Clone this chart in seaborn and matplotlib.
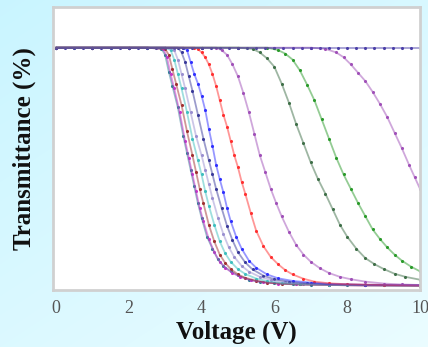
import numpy as np
import pandas as pd
import matplotlib
matplotlib.use("Agg")
import matplotlib.pyplot as plt
import seaborn as sns

# -----------------------------
# 1. Data (Voltage in V, Transmittance in %)
# -----------------------------
teal_v = [0, 0.5, 1, 1.5, 2, 2.5, 2.9, 3.0, 3.1, 3.2, 3.35, 3.5, 3.6, 3.7, 3.8, 3.9, 4.0, 4.15, 4.3, 4.45, 4.6, 4.8, 5.0, 5.3, 5.6, 6.0, 6.5, 7, 7.5, 8, 9, 10]
teal_t = [100, 100, 100, 100, 100, 100, 99.5, 97, 90, 84, 75, 63, 56, 49, 42, 35, 29, 21, 16, 11.5, 8.8, 6.5, 4.8, 3.0, 2.1, 1.5, 1.1, 0.9, 0.8, 0.7, 0.6, 0.5]

magenta_v = [0, 1, 2, 2.5, 2.95, 3.05, 3.15, 3.25, 3.4, 3.55, 3.65, 3.75, 3.85, 3.95, 4.05, 4.2, 4.35, 4.5, 4.65, 4.85, 5.05, 5.35, 5.7, 6.1, 6.6, 7.5, 8.5, 10]
magenta_t = [100, 100, 100, 100, 99.5, 96, 89, 83, 73, 61, 54, 47, 40, 33, 27.5, 20, 14.5, 10.5, 8, 5.8, 4.3, 2.8, 1.9, 1.4, 1.1, 0.8, 0.6, 0.5]

darkred_v = [0, 1, 2, 2.5, 3.0, 3.1, 3.2, 3.3, 3.45, 3.6, 3.75, 3.85, 3.95, 4.05, 4.2, 4.35, 4.5, 4.65, 4.8, 5.0, 5.2, 5.5, 5.8, 6.2, 6.7, 7.5, 8.5, 10]
darkred_t = [100, 100, 100, 100, 99.5, 97, 91, 85, 76, 65, 55, 48, 41, 35, 26, 19, 13.5, 10, 7.5, 5.2, 3.8, 2.6, 1.8, 1.3, 1.0, 0.8, 0.6, 0.5]

cyan_v = [0, 1, 2, 2.5, 3.0, 3.15, 3.25, 3.35, 3.45, 3.6, 3.75, 3.9, 4.0, 4.1, 4.2, 4.35, 4.5, 4.65, 4.8, 5.0, 5.2, 5.5, 5.8, 6.2, 6.7, 7.5, 8.5, 10]
cyan_t = [100, 100, 100, 100, 100, 99, 95, 89, 83, 73, 62, 53, 47, 40, 34, 26, 19, 14, 10.5, 7.4, 5.4, 3.5, 2.4, 1.6, 1.2, 0.9, 0.7, 0.6]

lavender_v = [0, 1, 2, 3.0, 3.25, 3.35, 3.45, 3.55, 3.7, 3.85, 4.0, 4.1, 4.2, 4.3, 4.45, 4.6, 4.75, 4.9, 5.1, 5.3, 5.6, 5.9, 6.3, 6.8, 7.5, 8.5, 10]
lavender_t = [100, 100, 100, 100, 99, 95, 89, 83, 73, 63, 55, 49, 43, 37, 29, 22, 16.5, 12.5, 8.8, 6.4, 4.2, 2.9, 2.0, 1.4, 1.0, 0.8, 0.6]

navy_v = [0, 1, 2, 3.0, 3.35, 3.45, 3.55, 3.65, 3.75, 3.9, 4.05, 4.2, 4.3, 4.4, 4.55, 4.7, 4.85, 5.0, 5.2, 5.4, 5.7, 6.0, 6.4, 6.9, 7.5, 8.5, 10]
navy_t = [100, 100, 100, 100, 100, 98, 94, 88, 82, 72, 62, 53, 47, 41, 33, 25.5, 19.5, 14.5, 10.2, 7.3, 4.7, 3.2, 2.2, 1.5, 1.1, 0.8, 0.6]

blue_v = [0, 1, 2, 3, 3.5, 3.6, 3.7, 3.8, 3.9, 4.0, 4.1, 4.2, 4.3, 4.4, 4.5, 4.6, 4.7, 4.8, 4.95, 5.1, 5.3, 5.5, 5.8, 6.1, 6.5, 7, 7.5, 8.5, 10]
blue_t = [100, 100, 100, 100, 100, 99, 94, 89, 85, 80, 74, 66, 59, 51, 45, 39.5, 33, 27.5, 21, 16, 11, 8, 5.2, 3.6, 2.5, 1.8, 1.3, 0.9, 0.7]

red_v = [0, 1, 2, 3, 3.8, 3.9, 4.0, 4.1, 4.2, 4.3, 4.4, 4.5, 4.6, 4.7, 4.8, 4.9, 5.0, 5.1, 5.2, 5.35, 5.5, 5.7, 5.9, 6.1, 6.3, 6.5, 6.8, 7.1, 7.5, 8, 9, 10]
red_t = [100, 100, 100, 100, 100, 99.5, 98, 96, 93, 89, 84, 78, 72, 67, 61, 55, 50, 44, 39, 31, 23.5, 17, 12.5, 9.5, 7, 5.2, 3.4, 2.2, 1.5, 1.1, 0.8, 0.6]

purple_v = [0, 1, 2, 3, 4, 4.4, 4.55, 4.7, 4.85, 5.0, 5.15, 5.3, 5.45, 5.6, 5.75, 5.9, 6.05, 6.2, 6.4, 6.6, 6.8, 7.0, 7.25, 7.5, 7.8, 8.1, 8.5, 9, 9.5, 10]
purple_t = [100, 100, 100, 100, 100, 100, 99, 97, 93, 88, 81, 73, 64, 55, 48, 41, 35, 29.5, 23, 17.5, 13.5, 10.5, 7.8, 5.8, 4.2, 3.2, 2.2, 1.4, 1.0, 0.8]

dkgreen_v = [0, 1, 2, 3, 4, 5, 5.4, 5.6, 5.8, 6.0, 6.2, 6.4, 6.6, 6.8, 7.0, 7.2, 7.4, 7.6, 7.8, 8.0, 8.25, 8.5, 8.75, 9.0, 9.3, 9.6, 10]
dkgreen_t = [100, 100, 100, 100, 100, 100, 99.5, 98, 95.5, 92, 85, 77, 68, 60, 52, 45, 39, 32.5, 26, 21, 16, 12, 9.5, 7.5, 5.5, 4.2, 3.0]

green_v = [0, 1, 2, 3, 4, 5, 5.8, 6.1, 6.3, 6.5, 6.7, 6.9, 7.1, 7.3, 7.5, 7.7, 7.9, 8.1, 8.3, 8.5, 8.7, 8.9, 9.1, 9.3, 9.5, 9.75, 10]
green_t = [100, 100, 100, 100, 100, 100, 100, 99, 97.5, 95, 90.5, 84.5, 78, 70, 62, 54, 47, 41, 35, 29.5, 24, 20, 16.5, 13.5, 11, 8.5, 6.5]

violet_v = [0, 1, 2, 3, 4, 5, 6, 7, 7.4, 7.7, 7.9, 8.1, 8.3, 8.5, 8.7, 8.9, 9.1, 9.3, 9.5, 9.7, 9.85, 10]
violet_t = [100, 100, 100, 100, 100, 100, 100, 100, 99.5, 98, 96, 93, 89.5, 86, 81.5, 76.5, 71, 64.5, 58, 51, 46, 41]

flat_v = [0, 0.25, 0.5, 0.75, 1, 1.25, 1.5, 1.75, 2, 2.25, 2.5, 2.75, 3, 3.25, 3.5, 3.75, 4, 4.25, 4.5, 4.75, 5,
          5.25, 5.5, 5.75, 6, 6.25, 6.5, 6.75, 7, 7.25, 7.5, 7.75, 8, 8.25, 8.5, 8.75, 9, 9.25, 9.5, 9.75, 10]
flat_t = [100, 100, 100, 100, 100, 100, 100, 100, 100, 100, 100, 100, 100, 100, 100, 100, 100, 100, 100, 100, 100,
          100, 100, 100, 100, 100, 100, 100, 100, 100, 100, 100, 100, 100, 100, 100, 100, 100, 100, 100, 100]

x_ticks = [0, 2, 4, 6, 8, 10]

curves = [
    (teal_v, teal_t, "#2f7f95"),
    (magenta_v, magenta_t, "#cc33cc"),
    (darkred_v, darkred_t, "#a03030"),
    (cyan_v, cyan_t, "#3fbfbf"),
    (lavender_v, lavender_t, "#9a8fd0"),
    (navy_v, navy_t, "#3a3a9a"),
    (blue_v, blue_t, "#3030ff"),
    (red_v, red_t, "#ff3030"),
    (purple_v, purple_t, "#a050b8"),
    (dkgreen_v, dkgreen_t, "#3f6f48"),
    (green_v, green_t, "#2a9a2a"),
    (violet_v, violet_t, "#a050b8"),
    (flat_v, flat_t, "#4a3fa8"),
]

# -----------------------------
# 2. Figure
# -----------------------------
sns.set_style("white")
fig = plt.figure(figsize=(4.28, 3.47), dpi=100)

# light blue backdrop, a touch deeper at the top left
h, w = 347, 428
yy, xx = np.mgrid[0:h, 0:w]
mix = np.clip(0.55 * yy / h + 0.45 * xx / w, 0, 1)[..., None]
top = np.array([0.79, 0.96, 1.0])
bot = np.array([0.92, 0.99, 1.0])
fig.figimage(top * (1 - mix) + bot * mix, xo=0, yo=0, origin="upper", zorder=-10)

ax = fig.add_axes([53 / 428, 57 / 347, 367 / 428, 283 / 347])
ax.set_facecolor("white")

for v, t, c in curves:
    sns.lineplot(x=v, y=t, color=c, lw=1.3, alpha=0.5, ax=ax, sort=False)
    sns.scatterplot(x=v, y=t, color=c, s=5, linewidth=0, ax=ax)

ax.set_xlim(-0.08, 10)
ax.set_ylim(-1.3, 117)
ax.set_xticks(x_ticks)
ax.set_xticklabels([str(x) for x in x_ticks], fontfamily="Liberation Serif",
                   fontsize=13, color="#555555")
ax.set_yticks([])
ax.tick_params(axis="x", length=0, pad=7)

for s in ax.spines.values():
    s.set_color("#d0d0d0")
    s.set_linewidth(2)

ax.set_xlabel("Voltage (V)", fontfamily="Liberation Serif", fontweight="bold",
              fontsize=18, color="#111111", labelpad=3)
ax.set_ylabel("Transmittance (%)", fontfamily="Liberation Serif", fontweight="bold",
              fontsize=18, color="#111111", labelpad=12)

fig.savefig("out.png", dpi=100)
